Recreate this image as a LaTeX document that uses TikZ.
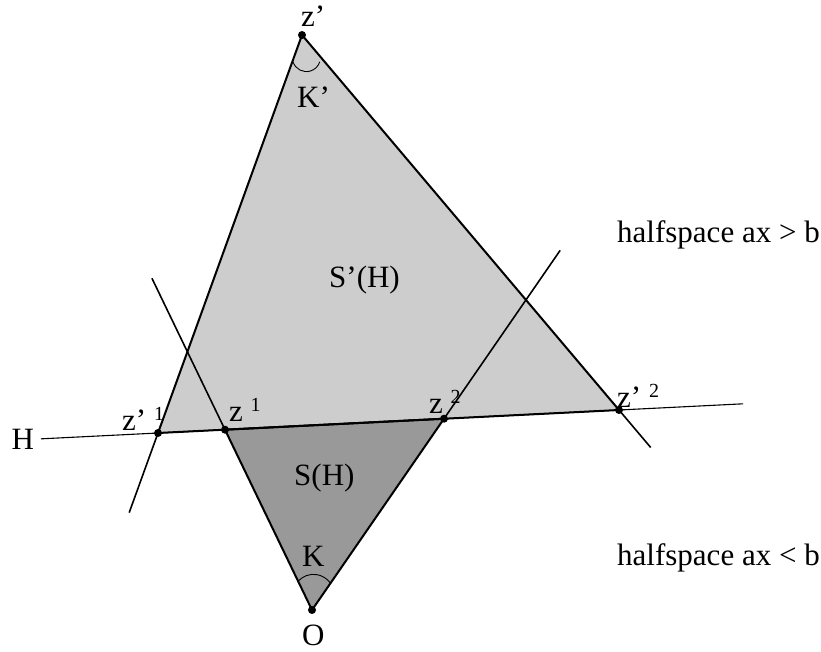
\documentclass[tikz,border=0pt]{standalone}
\usepackage{fontspec}
\setmainfont{Liberation Serif}
\usetikzlibrary{calc}
\definecolor{lightfill}{RGB}{205,205,205}
\definecolor{darkfill}{RGB}{153,153,153}
\newcommand\supnum[1]{\raisebox{10pt}{\fontsize{20}{20}\selectfont #1}}
\begin{document}
\begin{tikzpicture}[x=1pt,y=-1pt,
  every node/.style={font=\fontsize{31}{36}\selectfont, inner sep=0pt},
  edgeline/.style={line width=2pt, line join=round},
  extline/.style={line width=1.6pt},
  hline/.style={line width=1.1pt},
  anglearc/.style={line width=0.9pt},
  vdot/.style={circle, fill=black, minimum size=8pt, inner sep=0pt},
  lbl/.style={anchor=base west}]
\useasboundingbox (0,0) rectangle (821,651);
% points
\coordinate (zp) at (302,35);
\coordinate (zp1) at (158,433);
\coordinate (zp2) at (619,410);
\coordinate (z1) at (225,429.7);
\coordinate (z2) at (444,418.7);
\coordinate (O) at (312,610);
\coordinate (Hl) at ($(zp1)!-0.2538!(zp2)$);
\coordinate (Hr) at ($(zp1)!1.269!(zp2)$);
\coordinate (e1) at ($(zp)!1.2!(zp1)$);
\coordinate (e2) at ($(O)!1.84!(z1)$);
\coordinate (e3) at ($(O)!1.88!(z2)$);
\coordinate (e4) at ($(zp)!1.1!(zp2)$);
\coordinate (arcA) at (293,61.7);
\coordinate (arcB) at (297.7,581.7);
% fills
\fill[lightfill] (zp) -- (zp1) -- (zp2) -- cycle;
\fill[darkfill] (z1) -- (z2) -- (O) -- cycle;
% lines
\draw[hline] (Hl) -- (Hr);
\draw[extline] (zp1) -- (e1);
\draw[extline] (z1) -- (e2);
\draw[extline] (z2) -- (e3);
\draw[extline] (zp2) -- (e4);
\draw[edgeline] (zp) -- (zp1) -- (zp2) -- cycle;
\draw[edgeline] (z1) -- (z2) -- (O) -- cycle;
% angle arcs
\draw[anglearc] (arcA) arc[start angle=163, end angle=17, radius=14];
\draw[anglearc] (arcB) arc[start angle=220, end angle=324, radius=20.6];
% vertex dots
\node[vdot] (dzp) at (zp) {};
\node[vdot] (dzp1) at (zp1) {};
\node[vdot] (dzp2) at (zp2) {};
\node[vdot] (dz1) at (z1) {};
\node[vdot] (dz2) at (z2) {};
\node[vdot] (dO) at (O) {};
% labels
\node[lbl] (lzp) at (301,26.7) {z’};
\node[lbl] (lKp) at (297,107) {K’};
\node[lbl] (lSp) at (329,287) {S’(H)};
\node[lbl] (lS) at (294,485) {S(H)};
\node[lbl] (lK) at (302,566) {K};
\node[lbl] (lO) at (302,645) {O};
\node[lbl] (lH) at (11.5,449) {H};
\node[lbl] (lzp1) at (122,430.5) {z’ \supnum{1}};
\node[lbl] (lz1) at (229,421.7) {z \supnum{1}};
\node[lbl] (lz2) at (429,413.3) {z \supnum{2}};
\node[lbl] (lzp2) at (617,407.3) {z’ \supnum{2}};
\node[lbl] (hs1) at (617,242) {halfspace ax > b};
\node[lbl] (hs2) at (617,565) {halfspace ax < b};
\end{tikzpicture}
\end{document}
